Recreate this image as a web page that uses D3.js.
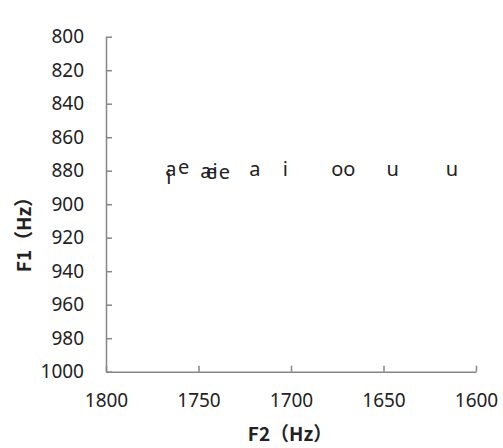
<!DOCTYPE html>
<html>
<head>
<meta charset="utf-8">
<script src="https://cdn.jsdelivr.net/npm/d3@7"></script>
<style>
  html, body { margin: 0; padding: 0; background: #fff; }
  svg { display: block; }
</style>
</head>
<body>
<svg id="chart" width="503" height="448"></svg>
<script>
// Vowel formant plot: each vowel drawn as its letter at (F2, F1)
const vowels = ["i", "a", "e", "a", "e", "i", "e", "a", "i", "o", "o", "u", "u"];
const f2Values = [1766, 1765, 1758, 1746, 1743, 1741, 1736, 1719.5, 1703, 1675, 1668.5, 1645, 1613];
const f1Values = [885, 880, 879, 881, 881.5, 881, 881.5, 880, 880, 880, 880, 880, 880];

const xTicks = [1800, 1750, 1700, 1650, 1600];
const yTicks = [800, 820, 840, 860, 880, 900, 920, 940, 960, 980, 1000];

const svg = d3.select("#chart");
const axisColor = "#868686";
const textColor = "#222";
const tickFont = "'Noto Sans', 'DejaVu Sans', sans-serif";
const titleFont = "'Noto Sans CJK SC', sans-serif";

// F2 runs high-to-low left to right, F1 runs low-to-high top to bottom
const x = d3.scaleLinear().domain([1800, 1600]).range([106, 476]);
const y = d3.scaleLinear().domain([800, 1000]).range([36.7, 371.7]);

// Left axis with inward ticks
const yAxis = svg.append("g")
  .attr("transform", `translate(${x(1800)},0)`)
  .call(d3.axisLeft(y).tickValues(yTicks).tickSizeInner(-6).tickSizeOuter(0)
    .tickPadding(22).tickFormat(d3.format("d")));
yAxis.select(".domain").attr("stroke", axisColor).attr("stroke-width", 1.5);
yAxis.selectAll(".tick line").attr("stroke", axisColor).attr("stroke-width", 1.5);
yAxis.selectAll(".tick text")
  .attr("fill", textColor)
  .style("font-family", tickFont)
  .style("font-size", "19px");

// Bottom axis with inward ticks
const xAxis = svg.append("g")
  .attr("transform", `translate(0,${y(1000)})`)
  .call(d3.axisBottom(x).tickValues(xTicks).tickSizeInner(-6).tickSizeOuter(0)
    .tickPadding(22).tickFormat(d3.format("d")));
xAxis.select(".domain").attr("stroke", axisColor).attr("stroke-width", 1.5);
xAxis.selectAll(".tick line").attr("stroke", axisColor).attr("stroke-width", 1.5);
xAxis.selectAll(".tick text")
  .attr("fill", textColor)
  .style("font-family", tickFont)
  .style("font-size", "19px");

// Vowel letters
svg.append("g")
  .selectAll("text")
  .data(vowels.map((v, i) => ({ v, f2: f2Values[i], f1: f1Values[i] })))
  .join("text")
  .attr("x", d => x(d.f2))
  .attr("y", d => y(d.f1))
  .attr("dy", "0.27em")
  .attr("text-anchor", "middle")
  .attr("fill", textColor)
  .style("font-family", tickFont)
  .style("font-size", "20px")
  .text(d => d.v);

// Axis titles
svg.append("text")
  .attr("x", 290)
  .attr("y", 441)
  .attr("text-anchor", "middle")
  .attr("fill", textColor)
  .style("font-family", titleFont)
  .style("font-weight", "bold")
  .style("font-size", "19px")
  .text("F2（Hz）");

svg.append("text")
  .attr("transform", "translate(31,230) rotate(-90)")
  .attr("text-anchor", "middle")
  .attr("fill", textColor)
  .style("font-family", titleFont)
  .style("font-weight", "bold")
  .style("font-size", "19px")
  .text("F1（Hz）");
</script>
</body>
</html>
